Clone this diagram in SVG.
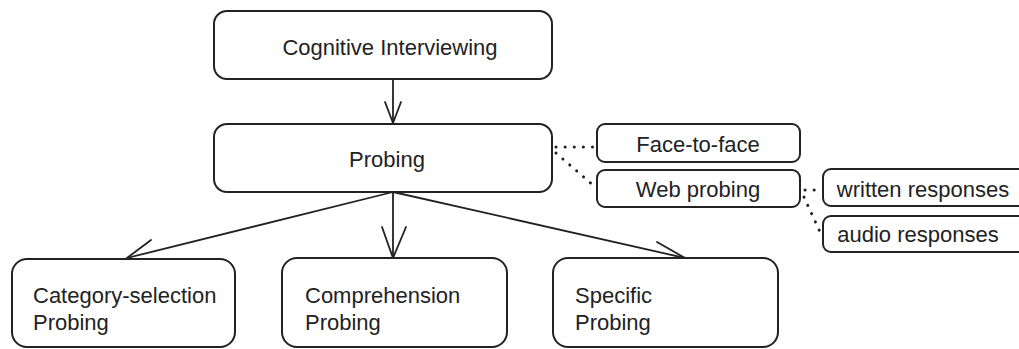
<svg xmlns="http://www.w3.org/2000/svg" width="1019" height="349" viewBox="0 0 1019 349">
  <style>
    .box { fill: #ffffff; stroke: #222222; stroke-width: 2; }
    .lbl { font-family: "Liberation Sans", Arial, sans-serif; font-size: 22px; fill: #222222; }
    .mid { text-anchor: middle; }
    .edge { fill: none; stroke: #222222; stroke-width: 1.8; stroke-linecap: round; stroke-linejoin: round; }
    .dots { fill: none; stroke: #222222; stroke-width: 3; stroke-linecap: round; stroke-dasharray: 0.1 9; }
  </style>
  <rect width="1019" height="349" fill="#ffffff"/>

  <!-- connectors -->
  <g id="connectors">
    <!-- Cognitive Interviewing -> Probing -->
    <path class="edge" d="M393 79 L393 123"/>
    <path class="edge" d="M385 102 L393 123 L401 102"/>
    <!-- Probing -> Category-selection -->
    <path class="edge" d="M393 192 L127 258"/>
    <path class="edge" d="M151 240 L127 258 L157 263"/>
    <!-- Probing -> Comprehension -->
    <path class="edge" d="M393 192 L393 258"/>
    <path class="edge" d="M382 227 L393 258 L406 227"/>
    <!-- Probing -> Specific -->
    <path class="edge" d="M393 192 L685 258"/>
    <path class="edge" d="M657 242 L685 258 L652 262"/>
    <!-- dotted links to probing modes -->
    <path class="dots" d="M556 147 L596 147"/>
    <path class="dots" d="M556 153 L594 186"/>
    <path class="dots" d="M805 190 L820 190"/>
    <path class="dots" d="M804 197 L820 232"/>
  </g>

  <g id="node-cognitive">
    <rect class="box" x="214" y="11" width="338" height="68" rx="13"/>
    <text class="lbl mid" x="390" y="55">Cognitive Interviewing</text>
  </g>

  <g id="node-probing">
    <rect class="box" x="214" y="124" width="338" height="68" rx="13"/>
    <text class="lbl mid" x="387" y="167">Probing</text>
  </g>

  <g id="node-face">
    <rect class="box" x="597" y="124" width="203" height="38" rx="8"/>
    <text class="lbl mid" x="698" y="152">Face-to-face</text>
  </g>

  <g id="node-web">
    <rect class="box" x="597" y="170" width="203" height="37" rx="8"/>
    <text class="lbl mid" x="698" y="197">Web probing</text>
  </g>

  <g id="node-written">
    <rect class="box" x="823" y="169" width="204" height="37" rx="8"/>
    <text class="lbl mid" x="923" y="197">written responses</text>
  </g>

  <g id="node-audio">
    <rect class="box" x="823" y="216" width="204" height="36" rx="8"/>
    <text class="lbl mid" x="918" y="242">audio responses</text>
  </g>

  <g id="node-category">
    <rect class="box" x="12" y="259" width="223" height="88" rx="15"/>
    <text class="lbl" x="33" y="303">Category-selection</text>
    <text class="lbl" x="33" y="330">Probing</text>
  </g>

  <g id="node-comprehension">
    <rect class="box" x="282" y="258" width="225" height="89" rx="15"/>
    <text class="lbl" x="305" y="303">Comprehension</text>
    <text class="lbl" x="305" y="330">Probing</text>
  </g>

  <g id="node-specific">
    <rect class="box" x="553" y="258" width="225" height="89" rx="15"/>
    <text class="lbl" x="575" y="303">Specific</text>
    <text class="lbl" x="575" y="330">Probing</text>
  </g>
</svg>
